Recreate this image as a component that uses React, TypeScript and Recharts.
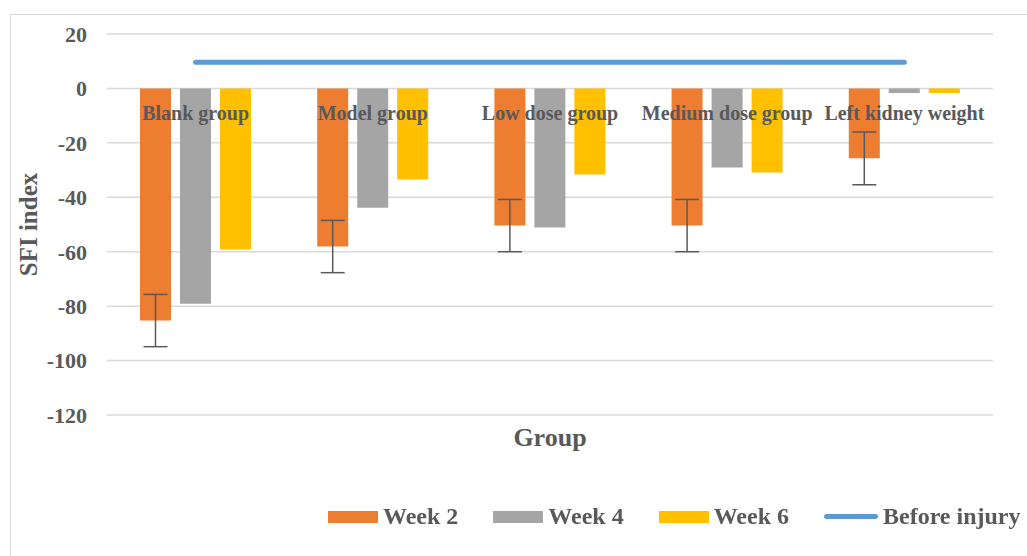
import React from "react";
import {
  ComposedChart,
  Bar,
  Line,
  XAxis,
  YAxis,
  CartesianGrid,
  ErrorBar,
} from "recharts";

const categories = ["Blank group", "Model group", "Low dose group", "Medium dose group", "Left kidney weight"];
const week2 = [-85.3, -58.1, -50.4, -50.4, -25.7];
const week2Err = [9.6, 9.6, 9.6, 9.6, 9.7];
const week4 = [-79.1, -43.8, -51.1, -29.1, -1.7];
const week6 = [-59.2, -33.5, -31.6, -30.9, -1.7];
const beforeInjury = [9.6, 9.6, 9.6, 9.6, 9.6];
const yTicks = [20, 0, -20, -40, -60, -80, -100, -120];

const data = categories.map((name, i) => ({
  name,
  week2: week2[i],
  week2Err: week2Err[i],
  week4: week4[i],
  week6: week6[i],
  before: beforeInjury[i],
}));

const FONT = "'Liberation Serif', 'Times New Roman', serif";
const TEXT = "#595959";
const ORANGE = "#ed7d31";
const GRAY = "#a5a5a5";
const YELLOW = "#ffc000";
const BLUE = "#5b9bd5";

function CategoryTick(props: { x?: number; y?: number; payload?: { value: string } }) {
  const { x = 0, y = 0, payload } = props;
  // labels sit just under the zero line, like Excel's "next to axis"
  return (
    <text x={x} y={y} dy={-295} textAnchor="middle" fill={TEXT} fontFamily={FONT} fontWeight={700} fontSize={20}>
      {payload?.value}
    </text>
  );
}

const legendItems = [
  { label: "Week 2", color: ORANGE, line: false },
  { label: "Week 4", color: GRAY, line: false },
  { label: "Week 6", color: YELLOW, line: false },
  { label: "Before injury", color: BLUE, line: true },
];

export default function App() {
  return (
    <div
      style={{
        position: "fixed",
        left: 10,
        top: 14,
        width: 1030,
        height: 560,
        border: "1px solid #d9d9d9",
        background: "#fff",
      }}
    >
      <ComposedChart
        width={1013}
        height={538}
        data={data}
        margin={{ top: 19, right: 31, bottom: 94, left: 0 }}
        barSize={31}
        barGap={9}
      >
        <CartesianGrid vertical={false} stroke="#d9d9d9" strokeWidth={1.5} />
        <XAxis
          dataKey="name"
          axisLine={false}
          tickLine={false}
          tickSize={0}
          tickMargin={0}
          height={44}
          interval={0}
          tick={<CategoryTick />}
          label={{ value: "Group", position: "center", fill: TEXT, fontFamily: FONT, fontWeight: 700, fontSize: 26 }}
        />
        <YAxis
          width={96}
          domain={[-120, 20]}
          ticks={yTicks}
          interval={0}
          axisLine={false}
          tickLine={false}
          tickSize={0}
          tickMargin={20}
          tick={{ fill: TEXT, fontFamily: FONT, fontWeight: 700, fontSize: 22 }}
          label={{
            value: "SFI index",
            angle: -90,
            position: "insideLeft",
            offset: 17,
            style: { textAnchor: "middle" },
            fill: TEXT,
            fontFamily: FONT,
            fontWeight: 700,
            fontSize: 25,
          }}
        />
        <Bar dataKey="week2" fill={ORANGE} isAnimationActive={false}>
          <ErrorBar dataKey="week2Err" direction="y" width={12} stroke={TEXT} strokeWidth={1.5} />
        </Bar>
        <Bar dataKey="week4" fill={GRAY} isAnimationActive={false} />
        <Bar dataKey="week6" fill={YELLOW} isAnimationActive={false} />
        <Line
          dataKey="before"
          stroke={BLUE}
          strokeWidth={5}
          strokeLinecap="round"
          dot={false}
          activeDot={false}
          isAnimationActive={false}
        />
      </ComposedChart>
      <div
        style={{
          position: "absolute",
          left: 317,
          top: 488,
          display: "flex",
          alignItems: "center",
          fontFamily: FONT,
          fontWeight: 700,
          fontSize: 24,
          color: TEXT,
          whiteSpace: "nowrap",
        }}
      >
        {legendItems.map((it) => (
          <div key={it.label} style={{ display: "flex", alignItems: "center", marginRight: 35 }}>
            <span
              style={{
                display: "inline-block",
                width: it.line ? 54 : 50,
                height: it.line ? 5 : 12,
                borderRadius: it.line ? 3 : 0,
                background: it.color,
                marginRight: 5,
              }}
            />
            <span>{it.label}</span>
          </div>
        ))}
      </div>
    </div>
  );
}
